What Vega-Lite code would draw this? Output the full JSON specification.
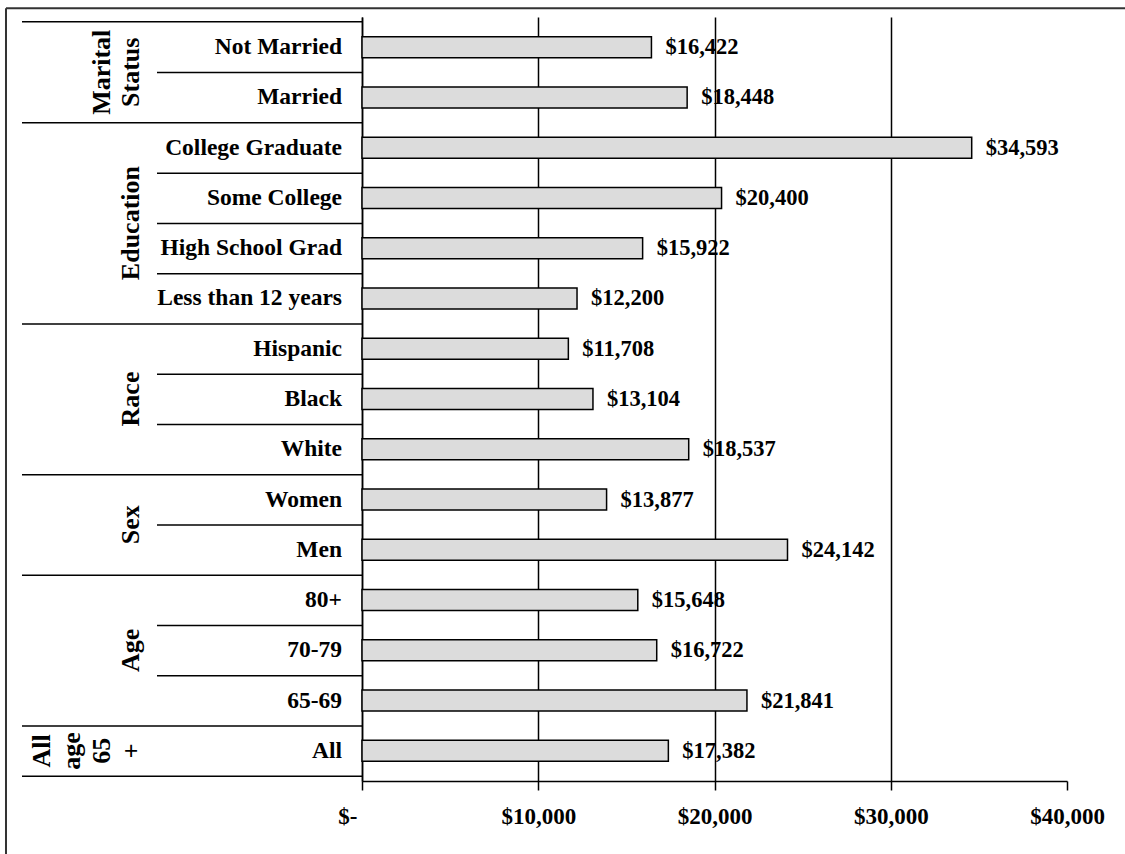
{
  "$schema": "https://vega.github.io/schema/vega-lite/v6.json",
  "width": 705,
  "height": 764,
  "autosize": {"type": "none"},
  "padding": {"left": 362, "top": 17, "right": 58, "bottom": 73},
  "background": "white",
  "config": {
    "view": {"stroke": null},
    "text": {"font": "Liberation Serif", "fontWeight": "bold", "color": "black"}
  },
  "data": {
    "values": [
      {"row": 0, "group": "Marital Status", "category": "Not Married", "value": 16422},
      {"row": 1, "group": "Marital Status", "category": "Married", "value": 18448},
      {"row": 2, "group": "Education", "category": "College Graduate", "value": 34593},
      {"row": 3, "group": "Education", "category": "Some College", "value": 20400},
      {"row": 4, "group": "Education", "category": "High School Grad", "value": 15922},
      {"row": 5, "group": "Education", "category": "Less than 12 years", "value": 12200},
      {"row": 6, "group": "Race", "category": "Hispanic", "value": 11708},
      {"row": 7, "group": "Race", "category": "Black", "value": 13104},
      {"row": 8, "group": "Race", "category": "White", "value": 18537},
      {"row": 9, "group": "Sex", "category": "Women", "value": 13877},
      {"row": 10, "group": "Sex", "category": "Men", "value": 24142},
      {"row": 11, "group": "Age", "category": "80+", "value": 15648},
      {"row": 12, "group": "Age", "category": "70-79", "value": 16722},
      {"row": 13, "group": "Age", "category": "65-69", "value": 21841},
      {"row": 14, "group": "All age 65 +", "category": "All", "value": 17382}
    ]
  },
  "layer": [
    {
      "mark": {"type": "bar", "orient": "horizontal", "size": 21, "fill": "#dcdcdc", "stroke": "black", "strokeWidth": 1.5},
      "encoding": {
        "x": {
          "field": "value", "type": "quantitative",
          "scale": {"domain": [0, 40000], "nice": false, "zero": true},
          "axis": {
            "title": null,
            "values": [0, 10000, 20000, 30000, 40000],
            "labelExpr": "datum.value == 0 ? '$-' : format(datum.value, '$,')",
            "labelAlign": {"condition": {"test": "datum.value == 0", "value": "right"}, "value": "center"},
            "labelOffset": {"condition": {"test": "datum.value == 0", "value": -5}, "value": 0},
            "labelFont": "Liberation Serif", "labelFontWeight": "bold", "labelFontSize": 23, "labelColor": "black",
            "labelFlush": false, "labelOverlap": false, "labelPadding": 15,
            "tickColor": "black", "tickSize": 9, "tickWidth": 1.5,
            "domainColor": "black", "domainWidth": 1.5,
            "grid": true, "gridWidth": 1.5,
            "gridColor": {"condition": {"test": "datum.value == 40000", "value": "transparent"}, "value": "black"}
          }
        },
        "y": {
          "field": "row", "type": "quantitative",
          "scale": {"domain": [-0.5, 14.5], "nice": false, "zero": false, "reverse": true},
          "axis": {"title": null, "labels": false, "ticks": false, "grid": false, "domain": true, "domainColor": "black", "domainWidth": 1.5}
        }
      }
    },
    {
      "mark": {"type": "text", "align": "left", "baseline": "middle", "dx": 14, "fontSize": 22.5},
      "encoding": {
        "x": {"field": "value", "type": "quantitative"},
        "y": {"field": "row", "type": "quantitative"},
        "text": {"field": "value", "type": "quantitative", "format": "$,"}
      }
    },
    {
      "mark": {"type": "text", "align": "right", "baseline": "middle", "dx": -20, "fontSize": 23.5},
      "encoding": {
        "x": {"datum": 0, "type": "quantitative"},
        "y": {"field": "row", "type": "quantitative"},
        "text": {"field": "category", "type": "nominal"}
      }
    },
    {
      "transform": [
        {"aggregate": [{"op": "mean", "field": "row", "as": "mid"}], "groupby": ["group"]},
        {"filter": "indexof(datum.group, ' ') < 0"}
      ],
      "mark": {"type": "text", "align": "center", "baseline": "bottom", "angle": 270, "xOffset": -218.5, "fontSize": 26},
      "encoding": {
        "x": {"datum": 0, "type": "quantitative"},
        "y": {"field": "mid", "type": "quantitative"},
        "text": {"field": "group", "type": "nominal"}
      }
    },
    {
      "transform": [
        {"aggregate": [{"op": "mean", "field": "row", "as": "mid"}], "groupby": ["group"]},
        {"filter": "datum.group == 'Marital Status'"}
      ],
      "mark": {"type": "text", "align": "center", "baseline": "bottom", "angle": 270, "xOffset": -247.5, "fontSize": 26, "lineBreak": " ", "lineHeight": 29},
      "encoding": {
        "x": {"datum": 0, "type": "quantitative"},
        "y": {"field": "mid", "type": "quantitative"},
        "text": {"field": "group", "type": "nominal"}
      }
    },
    {
      "transform": [
        {"aggregate": [{"op": "mean", "field": "row", "as": "mid"}], "groupby": ["group"]},
        {"filter": "datum.group == 'All age 65 +'"}
      ],
      "mark": {"type": "text", "align": "center", "baseline": "bottom", "angle": 270, "xOffset": -307, "fontSize": 26, "lineBreak": " ", "lineHeight": 30},
      "encoding": {
        "x": {"datum": 0, "type": "quantitative"},
        "y": {"field": "mid", "type": "quantitative"},
        "text": {"field": "group", "type": "nominal"}
      }
    },
    {
      "transform": [
        {"joinaggregate": [{"op": "max", "field": "row", "as": "lastRow"}], "groupby": ["group"]},
        {"filter": "datum.row < datum.lastRow"}
      ],
      "mark": {"type": "rule", "color": "black", "strokeWidth": 1.5, "yOffset": 25.47},
      "encoding": {
        "x": {"datum": -11631, "type": "quantitative"},
        "x2": {"datum": 0},
        "y": {"field": "row", "type": "quantitative"}
      }
    },
    {
      "transform": [{"aggregate": [{"op": "max", "field": "row", "as": "lastRow"}], "groupby": ["group"]}],
      "mark": {"type": "rule", "color": "black", "strokeWidth": 1.5, "yOffset": 25.47},
      "encoding": {
        "x": {"datum": -19291, "type": "quantitative"},
        "x2": {"datum": 0},
        "y": {"field": "lastRow", "type": "quantitative"}
      }
    },
    {
      "transform": [{"aggregate": [{"op": "min", "field": "row", "as": "firstRow"}]}],
      "mark": {"type": "rule", "color": "black", "strokeWidth": 1.5, "yOffset": -25.47},
      "encoding": {
        "x": {"datum": -19291, "type": "quantitative"},
        "x2": {"datum": 0},
        "y": {"field": "firstRow", "type": "quantitative"}
      }
    },
    {
      "data": {"values": [{}]},
      "mark": {"type": "rule", "color": "#333333", "strokeWidth": 2},
      "encoding": {
        "x": {"datum": -20199, "type": "quantitative"},
        "x2": {"datum": 43300},
        "y": {"datum": -0.775, "type": "quantitative"}
      }
    },
    {
      "data": {"values": [{}]},
      "mark": {"type": "rule", "color": "#333333", "strokeWidth": 2},
      "encoding": {
        "x": {"datum": -20199, "type": "quantitative"},
        "y": {"datum": -0.775, "type": "quantitative"},
        "y2": {"datum": 16.5}
      }
    }
  ]
}
